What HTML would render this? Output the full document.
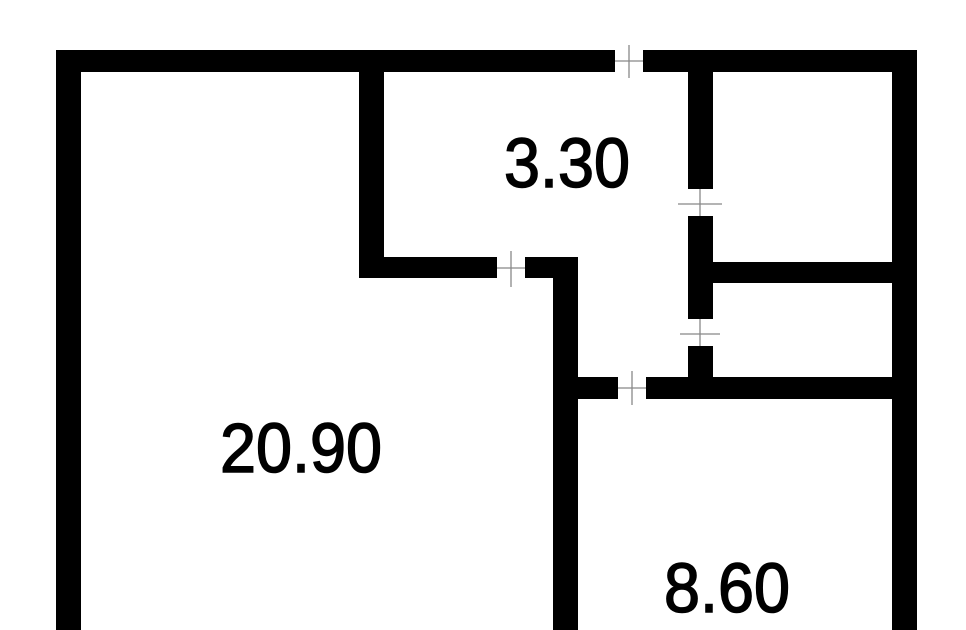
<!DOCTYPE html>
<html><head><style>html,body{margin:0;padding:0;background:#fff;width:966px;height:630px;overflow:hidden}</style></head>
<body>
<svg width="966" height="630" viewBox="0 0 966 630" xmlns="http://www.w3.org/2000/svg">
<g fill="#000">
<rect x="56" y="50" width="559" height="22"/>
<rect x="643" y="50" width="274" height="22"/>
<rect x="56" y="50" width="25" height="580"/>
<rect x="892" y="50" width="25" height="580"/>
<rect x="359" y="72" width="25" height="206"/>
<rect x="359" y="257" width="138" height="21"/>
<rect x="525" y="257" width="53" height="21"/>
<rect x="553" y="257" width="25" height="373"/>
<rect x="688" y="72" width="25" height="117"/>
<rect x="688" y="216" width="25" height="103"/>
<rect x="688" y="346" width="25" height="40"/>
<rect x="713" y="262" width="179" height="21"/>
<rect x="578" y="377" width="40" height="22"/>
<rect x="646" y="377" width="246" height="22"/>
</g>
<g stroke="#888" stroke-width="1.3">
<line x1="615" y1="61" x2="643" y2="61"/><line x1="629" y1="45" x2="629" y2="78"/>
<line x1="497" y1="268" x2="525" y2="268"/><line x1="511" y1="251" x2="511" y2="287"/>
<line x1="618" y1="388" x2="646" y2="388"/><line x1="632" y1="371" x2="632" y2="405"/>
<line x1="678" y1="204" x2="722" y2="204"/><line x1="700" y1="189" x2="700" y2="216"/>
<line x1="680" y1="334" x2="720" y2="334"/><line x1="700" y1="319" x2="700" y2="346"/>
</g>
<g font-family="Liberation Sans, sans-serif" font-size="70" fill="#000" stroke="#000" stroke-width="1.5">
<text x="504" y="187" textLength="126" lengthAdjust="spacingAndGlyphs">3.30</text>
<text x="220" y="472" textLength="162" lengthAdjust="spacingAndGlyphs">20.90</text>
<text x="664" y="612" textLength="126" lengthAdjust="spacingAndGlyphs">8.60</text>
</g>
</svg>
</body></html>
